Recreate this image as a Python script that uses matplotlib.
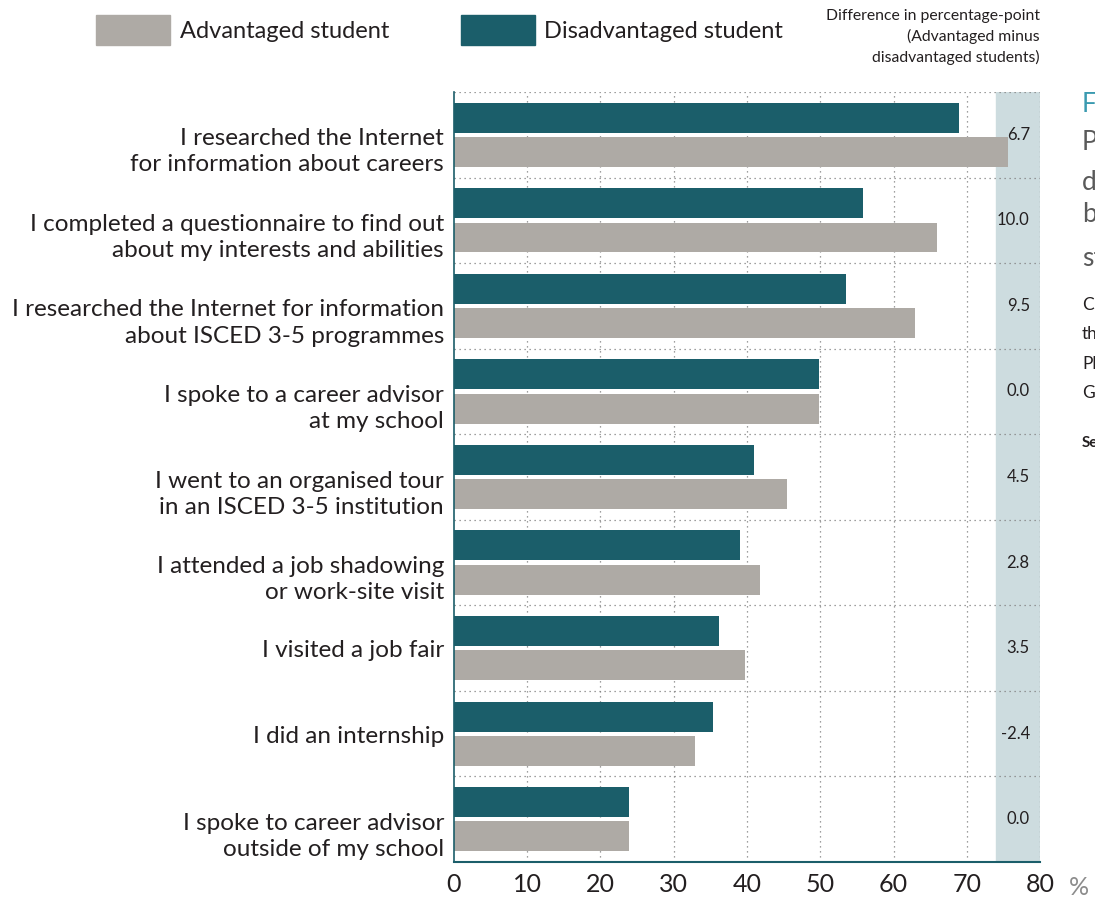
import matplotlib.pyplot as plt
import matplotlib.transforms as mtransforms
from matplotlib.patches import Rectangle

# activities asked about in the careers questionnaire
activities = [
    "I researched the Internet\nfor information about careers",
    "I completed a questionnaire to find out\nabout my interests and abilities",
    "I researched the Internet for information\nabout ISCED 3-5 programmes",
    "I spoke to a career advisor\nat my school",
    "I went to an organised tour\nin an ISCED 3-5 institution",
    "I attended a job shadowing\nor work-site visit",
    "I visited a job fair",
    "I did an internship",
    "I spoke to career advisor\noutside of my school",
]
disadvantaged = [68.9, 55.9, 53.5, 49.8, 41.0, 39.0, 36.2, 35.3, 23.9]
advantaged = [75.6, 65.9, 63.0, 49.8, 45.5, 41.8, 39.7, 32.9, 23.9]
xticks = [0, 10, 20, 30, 40, 50, 60, 70, 80]

teal = "#1b5e6a"
grey = "#aeaaa5"
band = "#cddcdf"
ink = "#231f20"

plt.rcParams['font.family'] = ['Lato', 'DejaVu Sans']

fig = plt.figure(figsize=(10.95, 8.97), dpi=100)
ax = fig.add_axes([0.4146, 0.039, 0.5352, 0.8584])

# shaded column holding the differences
ax.axvspan(74, 80, color=band, zorder=0)

grid = dict(color="#808080", linestyle=(0, (1, 3)), linewidth=0.9, zorder=1)
for x in xticks[1:]:
    ax.axvline(x, **grid)
for k in range(len(activities)):
    ax.axhline(k - 0.5, **grid)

ypos = list(range(len(activities)))
ax.barh([y - 0.2 for y in ypos], disadvantaged, height=0.35, color=teal, zorder=2)
ax.barh([y + 0.2 for y in ypos], advantaged, height=0.35, color=grey, zorder=2)

for y, a, d in zip(ypos, advantaged, disadvantaged):
    ax.text(78.6, y, f"{round(a - d, 1):.1f}", ha="right", va="center",
            fontsize=12, color=ink, zorder=3)

# category labels; two-line ones sit a little lower than the group centre
lab = mtransforms.blended_transform_factory(ax.transAxes, ax.transData)
lab = lab + mtransforms.ScaledTranslation(-10 / 100, 0, fig.dpi_scale_trans)
for y, name in zip(ypos, activities):
    shift = 0.2 if "\n" in name else 0.03
    ax.text(0, y + shift, name, transform=lab, ha="right", va="center",
            fontsize=17.5, color=ink, linespacing=1.3, multialignment="right")

ax.set_xlim(0, 80)
ax.set_ylim(len(activities) - 0.5, -0.5)
ax.set_xticks(xticks)
ax.set_xticklabels([str(x) for x in xticks], fontsize=18, color=ink)
ax.set_yticks([])
ax.tick_params(length=0)
ax.tick_params(axis="x", pad=8)

for side in ("top", "right"):
    ax.spines[side].set_visible(False)
ax.spines["left"].set_color(teal)
ax.spines["bottom"].set_color(teal)
ax.spines["left"].set_linewidth(1.2)
ax.spines["bottom"].set_linewidth(1.5)

W, H = 1095, 897
def fx(px):
    return px / W
def fy(py):
    return 1 - py / H

fig.text(fx(1069), fy(887), "%", fontsize=18, color="#8c8c8c", va="center")

# legend
fig.add_artist(Rectangle((fx(96), fy(45)), fx(74), 30 / H, color=grey))
fig.text(fx(180), fy(31), "Advantaged student", fontsize=17, color=ink, va="center")
fig.add_artist(Rectangle((fx(461), fy(45)), fx(74), 30 / H, color=teal))
fig.text(fx(544), fy(31), "Disadvantaged student", fontsize=17, color=ink, va="center")

fig.text(fx(1040), fy(9), "Difference in percentage-point\n(Advantaged minus\ndisadvantaged students)",
         ha="right", va="top", fontsize=11.3, color=ink, linespacing=1.5)

# start of the neighbouring text panel
fig.text(fx(1082), fy(104), "F", fontsize=19, color="#3a9ab0", va="center")
for py, s in [(143, "P"), (183, "d"), (214, "b"), (258, "st")]:
    fig.text(fx(1082), fy(py), s, fontsize=19, color="#5a5a5a", va="center")
for py, s in [(305, "C"), (334, "th"), (364, "Pl"), (393, "G")]:
    fig.text(fx(1082), fy(py), s, fontsize=12.5, color=ink, va="center")
fig.text(fx(1082), fy(443), "Se", fontsize=11, color=ink, va="center", fontweight="bold")

fig.savefig("out.png", dpi=100)
